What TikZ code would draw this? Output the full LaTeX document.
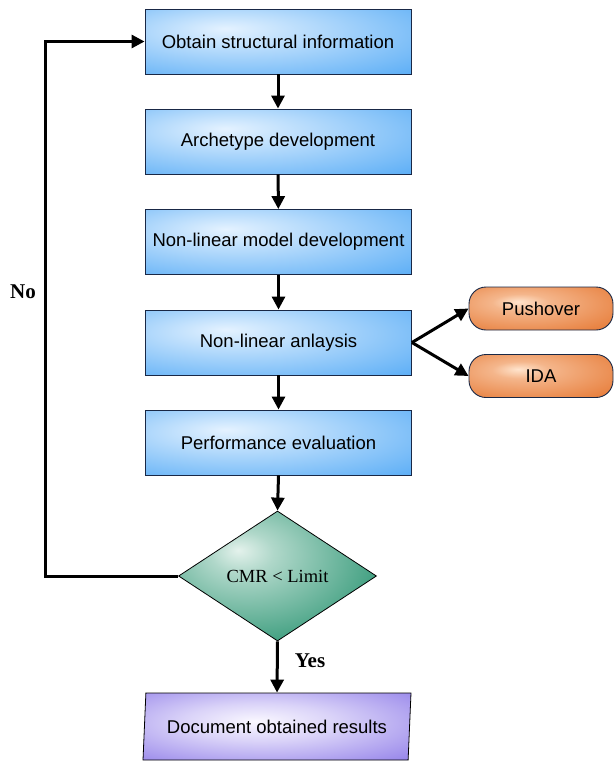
\documentclass[tikz,border=0pt]{standalone}
\usepackage{fontspec}
\setmainfont{Liberation Serif}
\newfontfamily\arialf{Liberation Sans}
\usetikzlibrary{arrows.meta,shapes.geometric,shapes.misc}
\definecolor{bluein}{RGB}{228,242,255}
\definecolor{blueout}{RGB}{80,168,245}
\definecolor{orin}{RGB}{255,228,205}
\definecolor{orout}{RGB}{228,112,40}
\definecolor{grin}{RGB}{228,242,236}
\definecolor{grout}{RGB}{18,136,98}
\definecolor{puin}{RGB}{250,248,255}
\definecolor{puout}{RGB}{122,100,228}
\definecolor{edgeblue}{RGB}{25,40,70}
\pgfdeclareradialshading{blueglow}{\pgfpoint{-10bp}{10bp}}{color(0bp)=(bluein); color(14bp)=(bluein!70!blueout); color(46bp)=(blueout); color(80bp)=(blueout)}
\pgfdeclareradialshading{orglow}{\pgfpoint{-8bp}{8bp}}{color(0bp)=(orin); color(10bp)=(orin!60!orout); color(45bp)=(orout); color(80bp)=(orout)}
\pgfdeclareradialshading{grglow}{\pgfpoint{-10bp}{10bp}}{color(0bp)=(grin); color(8bp)=(grin!75!grout); color(42bp)=(grout); color(80bp)=(grout)}
\pgfdeclareradialshading{puglow}{\pgfpoint{-4bp}{4bp}}{color(0bp)=(puin); color(14bp)=(puin!75!puout); color(48bp)=(puout); color(80bp)=(puout)}
\tikzset{
  procbox/.style={rectangle, draw=edgeblue, line width=0.9pt, shading=blueglow,
    minimum width=266pt, minimum height=65pt, inner sep=0pt,
    font=\arialf\fontsize{18.5}{22}\selectfont},
  pillbox/.style={rectangle, rounded corners=17pt, draw=edgeblue, line width=0.9pt, shading=orglow,
    minimum width=144pt, minimum height=43pt, inner sep=0pt,
    font=\arialf\fontsize{18.5}{22}\selectfont},
  decbox/.style={diamond, draw=black, line width=0.8pt, shading=grglow,
    minimum width=198pt, minimum height=130pt, inner sep=0pt,
    font=\fontsize{18.5}{22}\selectfont},
  iobox/.style={trapezium, trapezium left angle=78, trapezium right angle=102,
    trapezium stretches body, draw=black, line width=0.8pt, shading=puglow,
    minimum width=268pt, minimum height=67pt, inner sep=0pt,
    font=\arialf\fontsize{18.5}{22}\selectfont},
  flow/.style={line width=3pt, -{Triangle[length=13pt,width=13pt]}},
  lbl/.style={font=\bfseries\fontsize{21}{24}\selectfont, inner sep=0pt}
}
\begin{document}
\begin{tikzpicture}[x=1pt,y=-1pt]
\useasboundingbox (0,0) rectangle (616,761);
\node[procbox] (b1) at (278,41.5) {Obtain structural information};
\node[procbox] (b2) at (278,141.5) {Archetype development};
\node[procbox] (b3) at (278.5,242) {Non-linear model development};
\node[procbox] (b4) at (278.5,342.5) {Non-linear anlaysis};
\node[procbox] (b5) at (278.5,442.5) {Performance evaluation};
\node[pillbox] (p1) at (541,308.5) {Pushover};
\node[pillbox] (p2) at (541,376) {IDA};
\node[decbox] (d) at (277.5,576) {CMR < Limit};
\node[iobox] (r) at (277,726.5) {Document obtained results};
\coordinate (fb) at (45,576);
\draw[flow] (b1) -- (b2);
\draw[flow] (b2) -- (b3);
\draw[flow] (b3) -- (b4);
\draw[flow] (b4) -- (b5);
\draw[flow] (b5.south) -- (d.north);
\draw[flow] (d.south) -- (r.north);
\draw[flow] (b4.east) -- (p1.west);
\draw[flow] (b4.east) -- (p2.west);
\draw[flow] (d.west) -- (fb) |- (b1.west);
\node[lbl] (no) at (23,292) {No};
\node[lbl] (yes) at (310,661) {Yes};
\end{tikzpicture}
\end{document}
